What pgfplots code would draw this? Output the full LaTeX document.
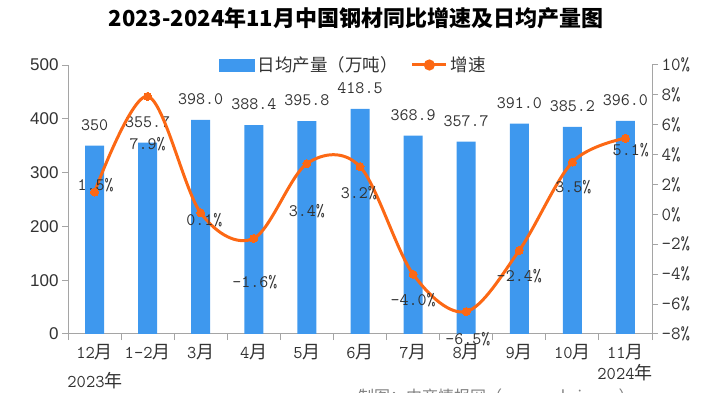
\documentclass[border=0pt]{standalone}
\usepackage{fontspec}
\usepackage{pgfplots}
\pgfplotsset{compat=1.18}
\newfontfamily\cjk{Noto Sans CJK SC}
\newfontfamily\arial{Liberation Sans}
\definecolor{barblue}{RGB}{62,152,238}
\definecolor{lineorange}{RGB}{252,104,20}
\definecolor{txt}{RGB}{50,50,50}
\definecolor{axisgray}{RGB}{165,165,165}
\newcommand{\fs}[1]{\fontsize{#1}{#1}\selectfont}
\newcommand{\yue}{{\cjk 月}}
\begin{document}
\begin{tikzpicture}
\useasboundingbox (0bp,0bp) rectangle (711bp,393bp);
\begin{axis}[
  at={(68bp,59bp)}, anchor=south west,
  scale only axis, width=584bp, height=269bp,
  xmin=-0.5, xmax=10.5, ymin=0, ymax=500,
  axis x line*=bottom, axis y line*=left,
  axis line style={draw=axisgray, line width=1bp, -},
  ytick={0,100,200,300,400,500},
  yticklabel style={font=\arial\fs{17bp}, text=txt},
  /pgf/number format/assume math mode=true,
  tick align=outside,
  major tick length=6bp,
  tick style={draw=axisgray, line width=1bp},
  xtick={-0.5,0.5,1.5,2.5,3.5,4.5,5.5,6.5,7.5,8.5,9.5,10.5},
  xticklabels={},
  extra x ticks={0,1,2,3,4,5,6,7,8,9,10},
  extra x tick labels={12\yue,1-2\yue,3\yue,4\yue,5\yue,6\yue,7\yue,8\yue,9\yue,10\yue,11\yue},
  extra x tick style={major tick length=0pt},
  xticklabel style={font=\ttfamily\fs{18bp}, text=txt, yshift=-7bp},
  ybar, bar width=19bp,
  clip=false,
]
\addplot[fill=barblue, draw=none, nodes near coords, point meta=explicit symbolic,
  every node near coord/.append style={font=\ttfamily\fs{17.5bp}, text=txt, inner sep=0pt, anchor=south, yshift=15bp}]
  table[x=x, y=y, meta=label] {
x y label
0 350 350
1 355.7 355.7
2 398.0 398.0
3 388.4 388.4
4 395.8 395.8
5 418.5 418.5
6 368.9 368.9
7 357.7 357.7
8 391.0 391.0
9 385.2 385.2
10 396.0 396.0
};
\end{axis}
\begin{axis}[
  at={(68bp,59bp)}, anchor=south west,
  scale only axis, width=584bp, height=269bp,
  xmin=-0.5, xmax=10.5, ymin=-8, ymax=10,
  axis x line=none, axis y line*=right,
  axis line style={draw=axisgray, line width=1bp, -},
  ytick={-8,-6,-4,-2,0,2,4,6,8,10},
  yticklabels={-8\%,-6\%,-4\%,-2\%,0\%,2\%,4\%,6\%,8\%,10\%},
  yticklabel style={font=\ttfamily\fs{18.5bp}, text=txt},
  tick align=outside, major tick length=6bp,
  tick style={draw=axisgray, line width=1bp},
  clip=false,
  legend style={at={(0.49,1)}, anchor=center, draw=none, fill=none,
    legend columns=2, font=\cjk\fs{17.5bp}, text=txt,
    nodes={inner sep=3bp},
    /tikz/every even column/.append style={column sep=10bp}},
]
\addlegendimage{legend image code/.code={\fill[barblue] (0bp,-6bp) rectangle (35bp,6bp);}}
\addlegendentry{日均产量（万吨）}
\addplot[lineorange, line width=3bp, smooth, tension=0.55, mark=*, mark size=4bp,
  mark options={fill=lineorange, draw=lineorange, line width=0pt},
  legend image code/.code={\draw[lineorange,line width=3bp] (0bp,0bp)--(34bp,0bp); \fill[lineorange] (17bp,0bp) circle (4bp);}]
  coordinates {(0,1.5) (1,7.9) (2,0.1) (3,-1.6) (4,3.4) (5,3.2) (6,-4.0) (7,-6.5) (8,-2.4) (9,3.5) (10,5.1)};
\addlegendentry{增速}
\begin{scope}[every node/.style={font=\ttfamily\fs{17.5bp}, text=txt, inner sep=0pt}]
\node at (axis cs:0.02,1.97) {1.5\%};
\node at (axis cs:1,4.71) {7.9\%};
\node at (axis cs:2.07,-0.37) {0.1\%};
\node at (axis cs:3.02,-4.52) {-1.6\%};
\node at (axis cs:4,0.23) {3.4\%};
\node at (axis cs:4.98,1.43) {3.2\%};
\node at (axis cs:6,-5.73) {-4.0\%};
\node at (axis cs:7.03,-8.34) {-6.5\%};
\node at (axis cs:8,-4.12) {-2.4\%};
\node at (axis cs:9.02,1.83) {3.5\%};
\node at (axis cs:10.1,4.31) {5.1\%};
\end{scope}
\end{axis}
\node[font=\cjk\bfseries\fs{22bp}, text=black] at (356bp,375bp) {2023-2024年11月中国钢材同比增速及日均产量图};
\node[font=\fs{18bp}, text=txt] at (95bp,12bp) {{\ttfamily 2023}{\cjk 年}};
\node[font=\fs{18bp}, text=txt] at (625bp,20bp) {{\ttfamily 2024}{\cjk 年}};
\node[anchor=north west, font=\cjk\fs{16bp}, text=gray, inner sep=0pt] at (358bp,4bp) {制图：中商情报网（www.askci.com）};
\end{tikzpicture}
\end{document}
